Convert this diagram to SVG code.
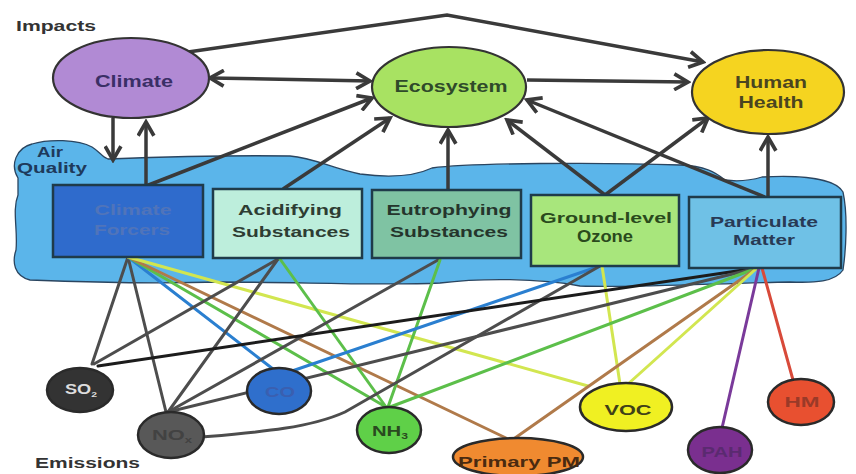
<svg xmlns="http://www.w3.org/2000/svg" width="856" height="474" viewBox="0 0 856 474">
<defs>
<marker id="ah" viewBox="0 0 18 18" refX="15" refY="9" markerWidth="19" markerHeight="19" markerUnits="userSpaceOnUse" orient="auto-start-reverse">
<path d="M2,1.5 L15,9 L2,16.5" fill="none" stroke="#3a3a3a" stroke-width="3.5"/>
</marker>
<style>
text{font-family:"Liberation Sans",Arial,sans-serif;font-weight:bold;text-anchor:middle}
.lbl{text-anchor:start;fill:#333}
.arr{fill:none;stroke:#3a3a3a;stroke-width:3.5;marker-end:url(#ah)}
.em{fill:none;stroke-width:3;stroke-linecap:round}
.gr{stroke:#4d4d4d}.bk{stroke:#1c1c1c}.bl{stroke:#2a7fd0}.gn{stroke:#5cbf4a}
.br{stroke:#b07a4a}.yg{stroke:#d2e650}.pu{stroke:#7a3a9a}.rd{stroke:#d84a3a}
.box{stroke:#1f3b4a;stroke-width:2.5}
.nd{stroke:#2a2a2a;stroke-width:2.5}
.ell{stroke:#333;stroke-width:2.2}
</style>
</defs>
<rect width="856" height="474" fill="#fff"/>
<text class="lbl" x="16" y="31" font-size="15" textLength="80" lengthAdjust="spacingAndGlyphs">Impacts</text>
<text class="lbl" x="35" y="468" font-size="15" textLength="105" lengthAdjust="spacingAndGlyphs">Emissions</text>

<g id="air-quality">
<path d="M18,178 C10,165 16,148 32,144 C48,139 78,139 92,147 C100,152 102,157 108,159 C160,157 230,155 290,156 C315,158 330,168 360,174 C390,178 415,176 432,168 C470,163 600,162 680,165 C705,166 715,172 725,180 C740,182 752,180 762,177 C800,175 835,178 843,192 C848,215 846,250 843,270 C835,282 815,283 790,282 C720,283 640,288 580,286 C540,278 480,278 440,283 C380,286 300,282 220,282 C150,284 80,282 30,280 C14,276 12,262 16,250 C18,230 12,210 18,195 Z" fill="#5bb5ea" stroke="#2a4560" stroke-width="1.3"/>
<text x="50" y="157" font-size="14" fill="#1e3a5c" textLength="26" lengthAdjust="spacingAndGlyphs">Air</text>
<text x="52" y="173" font-size="14" fill="#1e3a5c" textLength="70" lengthAdjust="spacingAndGlyphs">Quality</text>
</g>

<g id="connectors">
<path class="em gr" d="M128,257 L92,364"/>
<path class="em gr" d="M128,257 L166,412"/>
<path class="em bl" d="M128,257 L273,369"/>
<path class="em gn" d="M128,257 L386,407"/>
<path class="em br" d="M128,257 L506,438"/>
<path class="em yg" d="M128,257 L588,386"/>
<path class="em gr" d="M278,259 L94,364"/>
<path class="em gr" d="M278,259 L168,412"/>
<path class="em gn" d="M280,259 L386,407"/>
<path class="em gr" d="M438,260 L168,412"/>
<path class="em gn" d="M440,260 L388,407"/>
<path class="em bl" d="M600,266 L292,371"/>
<path class="em gr" d="M203,437 C260,432 310,428 345,412 L600,266"/>
<path class="em yg" d="M602,266 L620,384"/>
<path class="em bk" d="M757,268 L98,366"/>
<path class="em gr" d="M757,268 L168,412"/>
<path class="em gn" d="M757,268 L390,407"/>
<path class="em br" d="M757,268 L515,438"/>
<path class="em yg" d="M757,268 L628,384"/>
<path class="em pu" d="M759,268 L722,428"/>
<path class="em rd" d="M762,268 L793,380"/>

<path class="arr" d="M188,52 L447,15 L703,62"/>
<path class="arr" d="M210,78 L370,81" marker-start="url(#ah)"/>
<path class="arr" d="M527,80 L688,82"/>
<path class="arr" d="M113,118 L113,160"/>
<path class="arr" d="M146,186 L146,122"/>
<path class="arr" d="M146,186 L372,98"/>
<path class="arr" d="M283,189 L390,118"/>
<path class="arr" d="M448,190 L448,130"/>
<path class="arr" d="M605,195 L507,120"/>
<path class="arr" d="M605,195 L708,118"/>
<path class="arr" d="M765,197 L527,100"/>
<path class="arr" d="M768,197 L768,137"/>
</g>

<g id="climate">
<ellipse class="ell" cx="131" cy="78" rx="78" ry="40" fill="#b18ad4"/>
<text x="134" y="87" font-size="16" fill="#3a2f66" textLength="78" lengthAdjust="spacingAndGlyphs">Climate</text>
</g>
<g id="ecosystem">
<ellipse class="ell" cx="449" cy="87" rx="77" ry="40" fill="#a8e262"/>
<text x="451" y="92" font-size="16" fill="#2f4a2a" textLength="113" lengthAdjust="spacingAndGlyphs">Ecosystem</text>
</g>
<g id="human-health">
<ellipse class="ell" cx="768" cy="92" rx="76" ry="42" fill="#f5d420"/>
<text x="771" y="88" font-size="16" fill="#4a4520" textLength="72" lengthAdjust="spacingAndGlyphs">Human</text>
<text x="771" y="108" font-size="16" fill="#4a4520" textLength="65" lengthAdjust="spacingAndGlyphs">Health</text>
</g>

<g id="climate-forcers">
<rect class="box" x="53" y="185" width="150" height="72" fill="#2f6bcc" stroke="#1f3b6a"/>
<text x="133" y="215" font-size="15" fill="#5074ba" textLength="77" lengthAdjust="spacingAndGlyphs">Climate</text>
<text x="132" y="235" font-size="15" fill="#5074ba" textLength="76" lengthAdjust="spacingAndGlyphs">Forcers</text>
</g>
<g id="acidifying">
<rect class="box" x="213" y="189" width="149" height="69" fill="#bdeedc"/>
<text x="290" y="215" font-size="15" fill="#2e3d33" textLength="104" lengthAdjust="spacingAndGlyphs">Acidifying</text>
<text x="291" y="237" font-size="15" fill="#2e3d33" textLength="118" lengthAdjust="spacingAndGlyphs">Substances</text>
</g>
<g id="eutrophying">
<rect class="box" x="372" y="190" width="149" height="68" fill="#7fc3a3"/>
<text x="449" y="215" font-size="15" fill="#25352c" textLength="125" lengthAdjust="spacingAndGlyphs">Eutrophying</text>
<text x="449" y="237" font-size="15" fill="#25352c" textLength="118" lengthAdjust="spacingAndGlyphs">Substances</text>
</g>
<g id="ground-level-ozone">
<rect class="box" x="531" y="195" width="148" height="71" fill="#a8e67c"/>
<text x="606" y="223" font-size="15" fill="#2a4a1c" textLength="132" lengthAdjust="spacingAndGlyphs">Ground-level</text>
<text x="605" y="242" font-size="16" fill="#2a4a1c" textLength="56" lengthAdjust="spacingAndGlyphs">Ozone</text>
</g>
<g id="particulate-matter">
<rect class="box" x="689" y="197" width="152" height="71" fill="#6fc1e6"/>
<text x="764" y="227" font-size="15" fill="#283a55" textLength="108" lengthAdjust="spacingAndGlyphs">Particulate</text>
<text x="764" y="245" font-size="15" fill="#283a55" textLength="62" lengthAdjust="spacingAndGlyphs">Matter</text>
</g>

<g id="so2">
<ellipse class="nd" cx="80" cy="390" rx="33" ry="22" fill="#333"/>
<text x="81" y="394" font-size="14" fill="#ddd" textLength="32" lengthAdjust="spacingAndGlyphs">SO<tspan font-size="8" dy="3">2</tspan></text>
</g>
<g id="nox">
<ellipse class="nd" cx="171" cy="435" rx="33" ry="23" fill="#585858"/>
<text x="172" y="440" font-size="15" fill="#424242" textLength="40" lengthAdjust="spacingAndGlyphs">NO<tspan font-size="9" dy="3">x</tspan></text>
</g>
<g id="co">
<ellipse class="nd" cx="279" cy="391" rx="32" ry="23" fill="#2f6fcc"/>
<text x="280" y="397" font-size="15" fill="#3a5fb0" textLength="30" lengthAdjust="spacingAndGlyphs">CO</text>
</g>
<g id="nh3">
<ellipse class="nd" cx="389" cy="430" rx="32" ry="23" fill="#5fd048"/>
<text x="390" y="436" font-size="15" fill="#2a4a20" textLength="36" lengthAdjust="spacingAndGlyphs">NH<tspan font-size="9" dy="3">3</tspan></text>
</g>
<g id="primary-pm">
<ellipse class="nd" cx="518" cy="457" rx="65" ry="19" fill="#f08a30"/>
<text x="519" y="467" font-size="15" fill="#4a2a10" textLength="122" lengthAdjust="spacingAndGlyphs">Primary PM</text>
</g>
<g id="voc">
<ellipse class="nd" cx="626" cy="407" rx="46" ry="24" fill="#f0f022"/>
<text x="628" y="415" font-size="15" fill="#404018" textLength="47" lengthAdjust="spacingAndGlyphs">VOC</text>
</g>
<g id="pah">
<ellipse class="nd" cx="720" cy="450" rx="32" ry="23" fill="#7a2f8f"/>
<text x="722" y="457" font-size="15" fill="#5a2a70" textLength="41" lengthAdjust="spacingAndGlyphs">PAH</text>
</g>
<g id="hm">
<ellipse class="nd" cx="801" cy="402" rx="33" ry="23" fill="#e85030"/>
<text x="802" y="407" font-size="15" fill="#9a3a28" textLength="35" lengthAdjust="spacingAndGlyphs">HM</text>
</g>
</svg>
